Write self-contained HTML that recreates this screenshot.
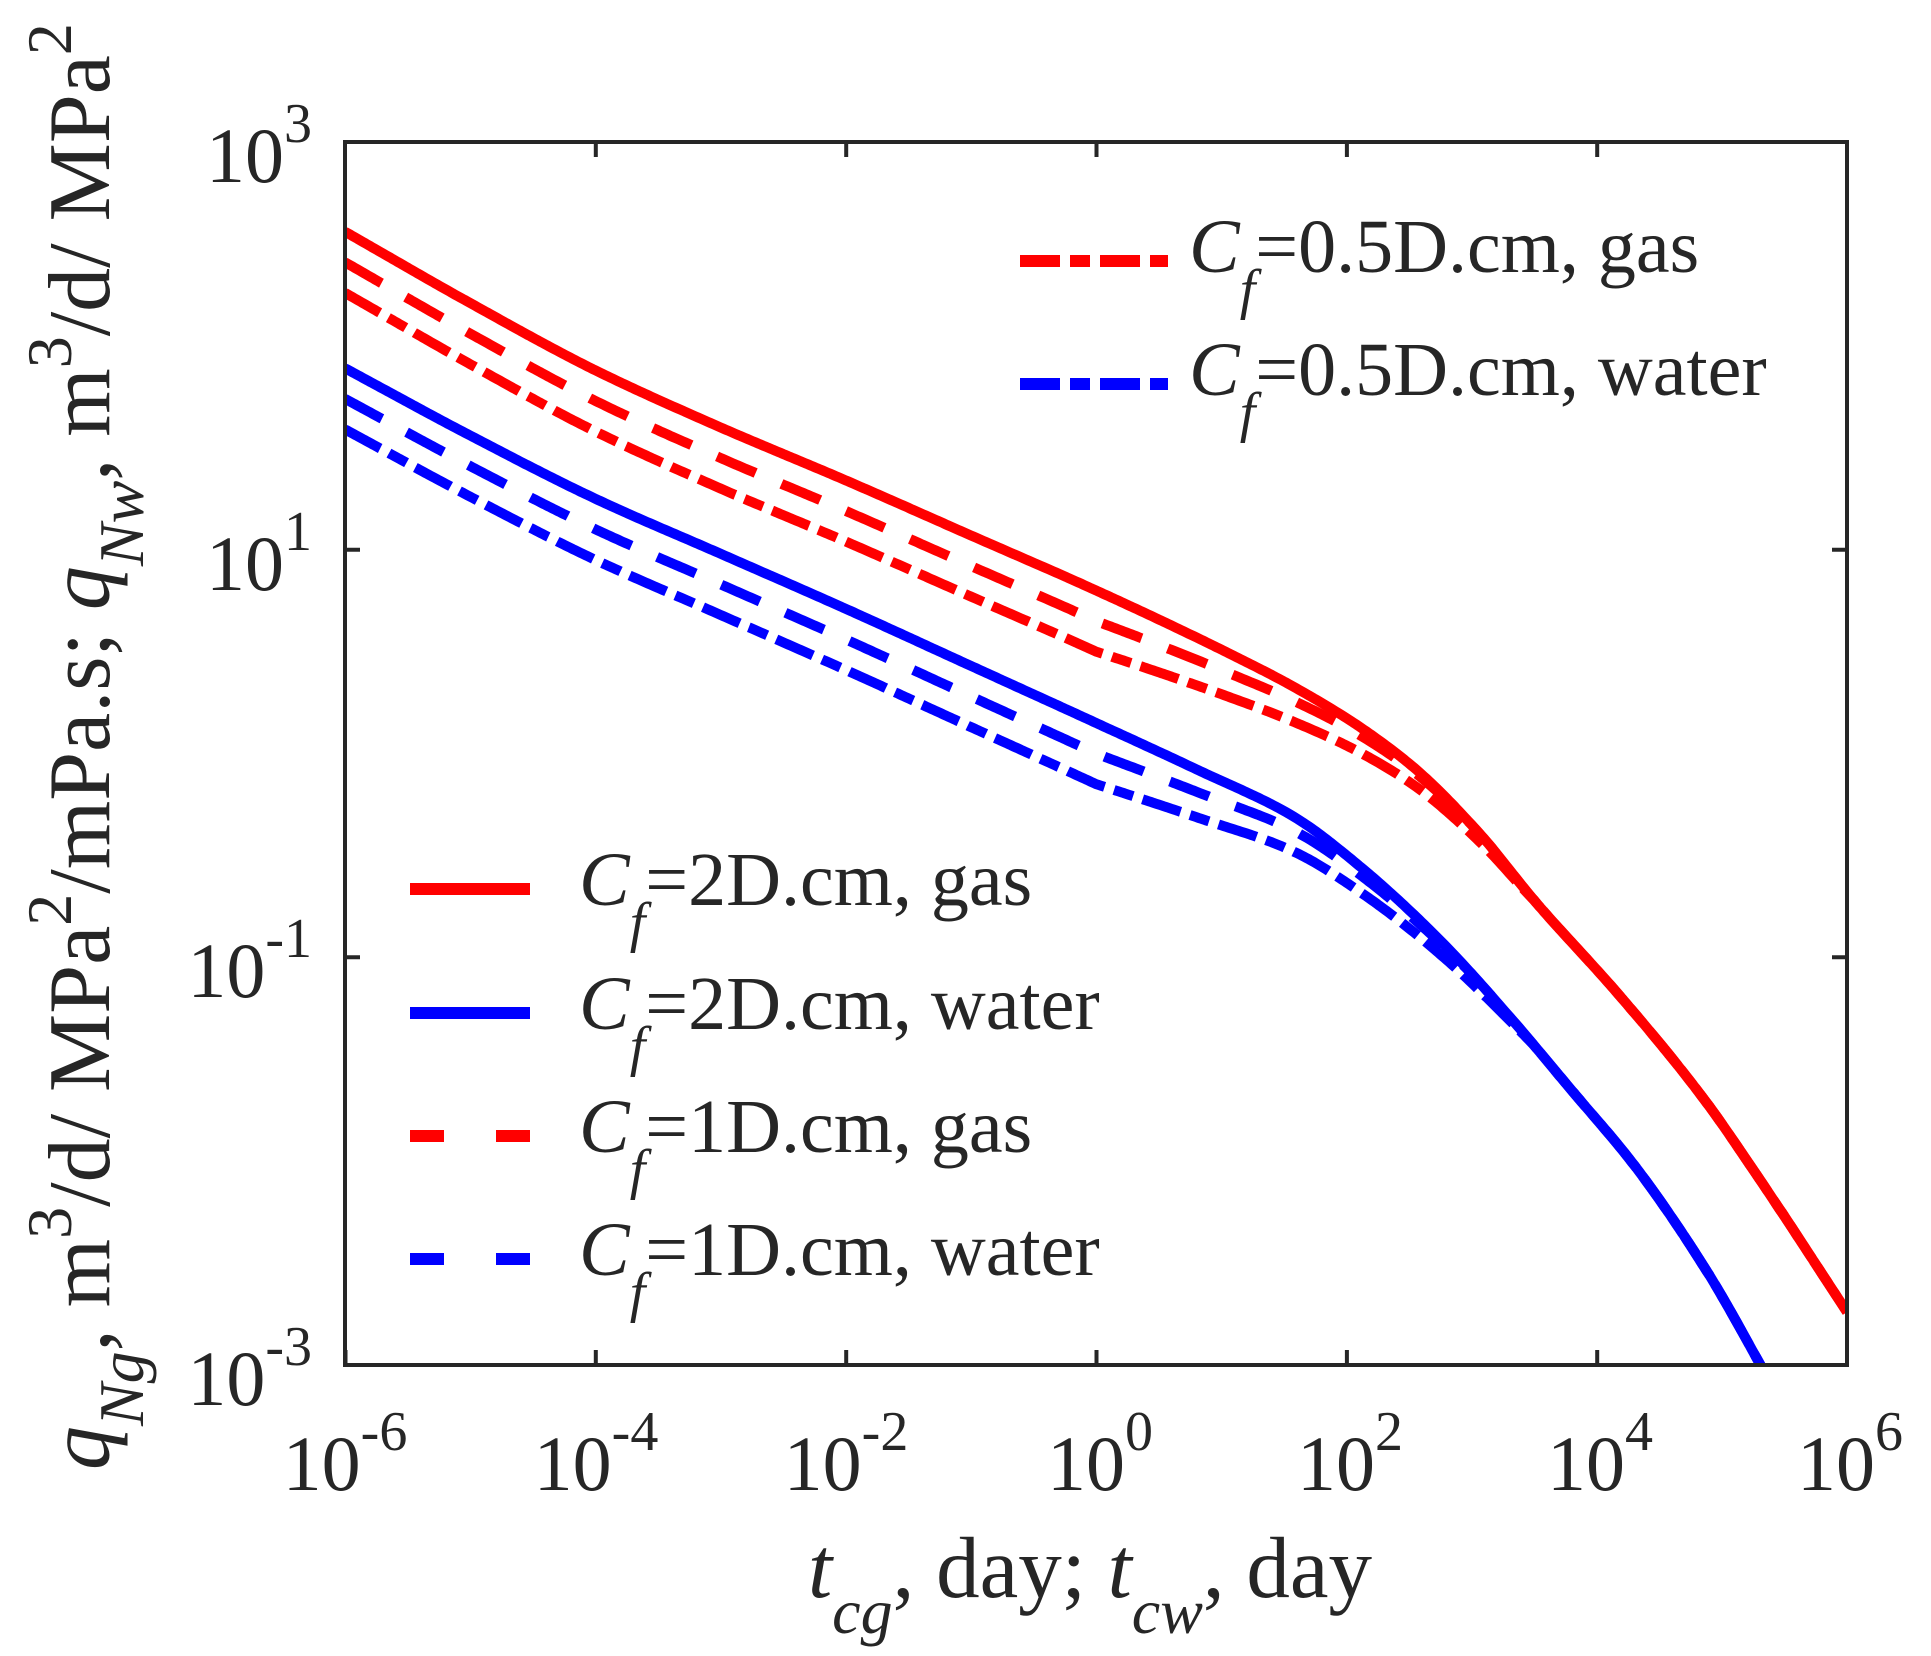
<!DOCTYPE html>
<html><head><meta charset="utf-8"><style>
html,body{margin:0;padding:0;background:#fff;}
svg{display:block;}
text{font-family:"Liberation Serif",serif;fill:#262626;}
</style></head><body>
<svg id="s" width="1931" height="1656" viewBox="0 0 1931 1656" xmlns="http://www.w3.org/2000/svg">
<defs><clipPath id="c"><rect x="345" y="142" width="1502" height="1223"/></clipPath></defs>
<g id="curves" clip-path="url(#c)" fill="none" stroke-width="10"></g>
<g stroke="#262626" stroke-width="4" fill="none">
<rect x="345" y="142" width="1502" height="1223"/>
<path d="M345.5 1365v-15M595.8 1365v-15M846.2 1365v-15M1096.5 1365v-15M1346.9 1365v-15M1597.2 1365v-15
M595.8 142v15M846.2 142v15M1096.5 142v15M1346.9 142v15M1597.2 142v15
M345 549.7h15M345 957.3h15M1847 549.7h-15M1847 957.3h-15"/>
</g>
<g font-size="78" text-anchor="end">
<text x="312" y="182">10<tspan font-size="56" dy="-40">3</tspan></text>
<text x="312" y="590">10<tspan font-size="56" dy="-40">1</tspan></text>
<text x="312" y="997">10<tspan font-size="56" dy="-40">-1</tspan></text>
<text x="312" y="1405">10<tspan font-size="56" dy="-40">-3</tspan></text>
</g>
<g font-size="78" text-anchor="middle">
<text x="345" y="1490">10<tspan font-size="56" dy="-40">-6</tspan></text>
<text x="596" y="1490">10<tspan font-size="56" dy="-40">-4</tspan></text>
<text x="846" y="1490">10<tspan font-size="56" dy="-40">-2</tspan></text>
<text x="1100" y="1490">10<tspan font-size="56" dy="-40">0</tspan></text>
<text x="1350" y="1490">10<tspan font-size="56" dy="-40">2</tspan></text>
<text x="1600" y="1490">10<tspan font-size="56" dy="-40">4</tspan></text>
<text x="1850" y="1490">10<tspan font-size="56" dy="-40">6</tspan></text>
</g>
<text x="808" y="1597" font-size="87"><tspan font-style="italic">t</tspan><tspan font-style="italic" font-size="64" dy="36">cg</tspan><tspan dy="-36">, day; </tspan><tspan font-style="italic">t</tspan><tspan font-style="italic" font-size="64" dy="36">cw</tspan><tspan dy="-36">, day</tspan></text>
<text transform="translate(109,1470) rotate(-90)" x="0" y="0" font-size="88"><tspan font-style="italic">q</tspan><tspan font-style="italic" font-size="64" dy="34">Ng</tspan><tspan dy="-34">, m</tspan><tspan font-size="64" dy="-38">3</tspan><tspan dy="38">/d/ MPa</tspan><tspan font-size="64" dy="-38">2</tspan><tspan dy="38">/mPa.s; </tspan><tspan font-style="italic">q</tspan><tspan font-style="italic" font-size="64" dy="34">Nw</tspan><tspan dy="-34">, m</tspan><tspan font-size="64" dy="-38">3</tspan><tspan dy="38">/d/ MPa</tspan><tspan font-size="64" dy="-38">2</tspan></text>
<g stroke-width="12" fill="none">
<path d="M1020 261h148" stroke="#ff0000" stroke-dasharray="40 10 20 10"/>
<path d="M1020 384h148" stroke="#0000ff" stroke-dasharray="40 10 20 10"/>
<path d="M410 889h120" stroke="#ff0000"/>
<path d="M410 1013h120" stroke="#0000ff"/>
<path d="M410 1136h120" stroke="#ff0000" stroke-dasharray="34 52"/>
<path d="M410 1259h120" stroke="#0000ff" stroke-dasharray="34 52"/>
</g>
<g font-size="76">
<text x="1189" y="272"><tspan font-style="italic">C</tspan><tspan font-style="italic" font-size="56" dy="36">f</tspan><tspan dy="-36">=0.5D.cm, gas</tspan></text>
<text x="1189" y="395"><tspan font-style="italic">C</tspan><tspan font-style="italic" font-size="56" dy="36">f</tspan><tspan dy="-36">=0.5D.cm, water</tspan></text>
<text x="579" y="905"><tspan font-style="italic">C</tspan><tspan font-style="italic" font-size="56" dy="36">f</tspan><tspan dy="-36">=2D.cm, gas</tspan></text>
<text x="579" y="1029"><tspan font-style="italic">C</tspan><tspan font-style="italic" font-size="56" dy="36">f</tspan><tspan dy="-36">=2D.cm, water</tspan></text>
<text x="579" y="1152"><tspan font-style="italic">C</tspan><tspan font-style="italic" font-size="56" dy="36">f</tspan><tspan dy="-36">=1D.cm, gas</tspan></text>
<text x="579" y="1275"><tspan font-style="italic">C</tspan><tspan font-style="italic" font-size="56" dy="36">f</tspan><tspan dy="-36">=1D.cm, water</tspan></text>
</g>
</svg>
<script>
(function(){
var R=[[-6,2.56],[-5,2.21],[-4,1.88],[-3,1.60],[-2,1.34],[-1,1.07],[0,0.80],[1,0.51],[1.6,0.32],[2.12,0.125],[2.56,-0.08],[3.06,-0.39],[3.5,-0.72],[4.2,-1.20],[4.85,-1.69],[5.27,-2.06],[6,-2.74]];
var B=[[-6,1.89],[-5,1.56],[-4,1.25],[-3,0.98],[-2,0.71],[-1,0.43],[0,0.15],[0.81,-0.08],[1.58,-0.31],[2.12,-0.56],[2.77,-0.93],[3.33,-1.31],[3.81,-1.66],[4.30,-2.02],[4.88,-2.54],[5.4,-3.1]];
function lin(P,x){if(x<=P[0][0])return P[0][1];for(var i=1;i<P.length;i++){if(x<=P[i][0]){var t=(x-P[i-1][0])/(P[i][0]-P[i-1][0]);return P[i-1][1]+t*(P[i][1]-P[i-1][1]);}}return P[P.length-1][1];}
function mono(P){var n=P.length,d=[],m=[];
 for(var i=0;i<n-1;i++)d.push((P[i+1][1]-P[i][1])/(P[i+1][0]-P[i][0]));
 m[0]=d[0];m[n-1]=d[n-2];
 for(var i=1;i<n-1;i++){if(d[i-1]*d[i]<=0)m[i]=0;else{var h0=P[i][0]-P[i-1][0],h1=P[i+1][0]-P[i][0];var w1=2*h1+h0,w2=h1+2*h0;m[i]=(w1+w2)/(w1/d[i-1]+w2/d[i]);}}
 return function(x){var i=0;while(i<n-2&&x>P[i+1][0])i++;
  var h=P[i+1][0]-P[i][0],t=(x-P[i][0])/h,t2=t*t,t3=t2*t;
  return (2*t3-3*t2+1)*P[i][1]+(t3-2*t2+t)*h*m[i]+(-2*t3+3*t2)*P[i+1][1]+(t3-t2)*h*m[i+1];};}
var OD=[[0,-0.15],[1.2,-0.09],[2,-0.045],[3,0]];
var ODD=[[0,-0.30],[1.6,-0.17],[2.5,-0.09],[3.5,0]];
function path(P,off,xmax){var f=mono(P);var d='';for(var x=-6;x<=xmax+1e-9;x+=0.02){var y=f(x)+(off?lin(off,x):0);
 var X=345+(x+6)*125.17,Y=142+(3-y)*203.83;d+=(d?'L':'M')+X.toFixed(1)+' '+Y.toFixed(1);}return d;}
var g=document.getElementById('curves');
function add(d,c,da){var p=document.createElementNS('http://www.w3.org/2000/svg','path');p.setAttribute('d',d);p.setAttribute('stroke',c);if(da)p.setAttribute('stroke-dasharray',da);g.appendChild(p);}
add(path(R,null,6),'#ff0000');
add(path(B,null,5.4),'#0000ff');
add(path(R,OD,6),'#ff0000','42 28');
add(path(B,OD,5.4),'#0000ff','42 28');
add(path(R,ODD,6),'#ff0000','40 10 20 10');
add(path(B,ODD,5.4),'#0000ff','40 10 20 10');
})();
</script>
</body></html>
